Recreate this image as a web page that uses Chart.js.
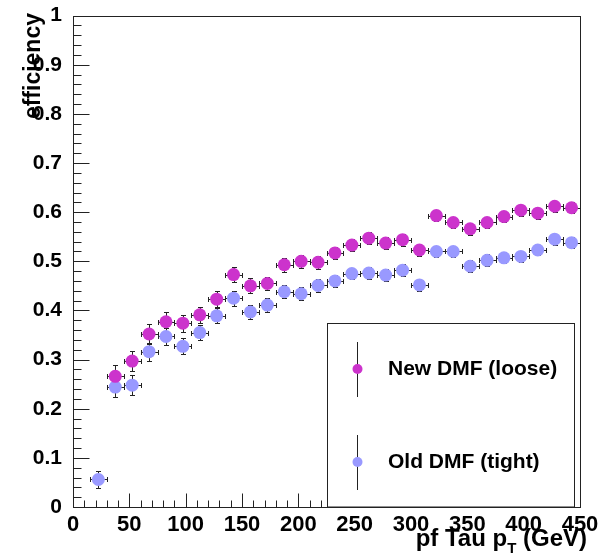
<!DOCTYPE html>
<html><head><meta charset="utf-8">
<script src="https://cdn.jsdelivr.net/npm/chart.js@4.4.1/dist/chart.umd.min.js"></script>
<style>html,body{margin:0;padding:0;background:#fff}</style>
</head><body>
<canvas id="c" width="608" height="560"></canvas>
<script>
// ---- data ----
const ptNew = [37.5,52.5,67.5,82.5,97.5,112.5,127.5,142.5,157.5,172.5,187.5,202.5,217.5,232.5,247.5,262.5,277.5,292.5,307.5,322.5,337.5,352.5,367.5,382.5,397.5,412.5,427.5,442.5];
const effNew = [0.266,0.297,0.352,0.377,0.374,0.391,0.423,0.473,0.450,0.455,0.493,0.500,0.498,0.517,0.533,0.547,0.537,0.544,0.523,0.593,0.579,0.566,0.579,0.591,0.604,0.598,0.612,0.609];
const errNew = [0.022,0.021,0.020,0.019,0.017,0.016,0.016,0.015,0.015,0.014,0.014,0.013,0.013,0.013,0.012,0.012,0.012,0.012,0.012,0.012,0.012,0.012,0.012,0.012,0.011,0.011,0.011,0.011];
const ptOld = [22.5,37.5,52.5,67.5,82.5,97.5,112.5,127.5,142.5,157.5,172.5,187.5,202.5,217.5,232.5,247.5,262.5,277.5,292.5,307.5,322.5,337.5,352.5,367.5,382.5,397.5,412.5,427.5,442.5];
const effOld = [0.056,0.244,0.248,0.316,0.347,0.327,0.355,0.389,0.425,0.397,0.411,0.438,0.434,0.451,0.460,0.475,0.476,0.472,0.482,0.452,0.520,0.520,0.490,0.502,0.507,0.510,0.523,0.545,0.538];
const errOld = [0.018,0.020,0.020,0.018,0.017,0.016,0.016,0.015,0.015,0.014,0.014,0.013,0.013,0.013,0.012,0.012,0.012,0.012,0.012,0.012,0.012,0.012,0.012,0.012,0.011,0.011,0.011,0.011,0.011];
const binHalfWidth = 7.5;
const xTicks = [0,50,100,150,200,250,300,350,400,450];
const yTicks = [0,0.1,0.2,0.3,0.4,0.5,0.6,0.7,0.8,0.9,1];
const yTickLabels = ["0","0.1","0.2","0.3","0.4","0.5","0.6","0.7","0.8","0.9","1"];
const seriesNames = ["New DMF (loose)","Old DMF (tight)"];
const seriesColors = ["#cc33cc","#9999ff"];
const xTitleMain = "pf Tau p", xTitleSub = "T", xTitleEnd = " (GeV)";
const yTitle = "efficiency";

const FONT = "'Liberation Sans', Arial, Helvetica, sans-serif";

function pts(xs, ys, es){ return xs.map((x,i)=>({x:x, y:ys[i], xe:binHalfWidth, ye:es[i]})); }

const errorBars = {
  id:'errorBars',
  beforeDatasetsDraw(chart){
    const {ctx, scales:{x,y}} = chart;
    ctx.save(); ctx.strokeStyle='#222'; ctx.lineWidth=1;
    chart.data.datasets.forEach(ds=>{
      ds.data.forEach(p=>{
        const px=Math.round(x.getPixelForValue(p.x))+0.5, py=Math.round(y.getPixelForValue(p.y))+0.5;
        const x0=Math.round(x.getPixelForValue(p.x-p.xe))+0.5, x1=Math.round(x.getPixelForValue(p.x+p.xe))+0.5;
        const y0=Math.round(y.getPixelForValue(p.y-p.ye))+0.5, y1=Math.round(y.getPixelForValue(p.y+p.ye))+0.5;
        ctx.beginPath();
        ctx.moveTo(x0,py); ctx.lineTo(x1,py);
        ctx.moveTo(px,y0); ctx.lineTo(px,y1);
        ctx.moveTo(x0,py-2.5); ctx.lineTo(x0,py+2.5);
        ctx.moveTo(x1,py-2.5); ctx.lineTo(x1,py+2.5);
        ctx.moveTo(px-2.5,y0); ctx.lineTo(px+2.5,y0);
        ctx.moveTo(px-2.5,y1); ctx.lineTo(px+2.5,y1);
        ctx.stroke();
      });
    });
    ctx.restore();
  }
};

const frameAndDecor = {
  id:'frameAndDecor',
  afterDatasetsDraw(chart){
    const {ctx, chartArea:a, scales:{x,y}} = chart;
    ctx.save();
    ctx.strokeStyle='#222'; ctx.lineWidth=1;
    const L=Math.round(a.left)+0.5, R=Math.round(a.right)+0.5, T=Math.round(a.top)+0.5, B=Math.round(a.bottom)+0.5;
    ctx.strokeRect(L,T,R-L,B-T);
    ctx.beginPath();
    for(let v=0; v<=1.0001; v+=0.02){
      const py=Math.round(y.getPixelForValue(v))+0.5;
      const major = Math.abs(v*10-Math.round(v*10))<1e-6;
      ctx.moveTo(L,py); ctx.lineTo(L+(major?16:8),py);
    }
    for(let v=0; v<=450.0001; v+=10){
      const px=Math.round(x.getPixelForValue(v))+0.5;
      const major = v%50===0;
      ctx.moveTo(px,B); ctx.lineTo(px,B-(major?14:7));
    }
    ctx.stroke();

    // legend box
    ctx.strokeStyle='#222';
    ctx.fillStyle='#fff';
    ctx.fillRect(328,324,246,183);
    ctx.strokeRect(327.5,323.5,247,183.5);
    const rows=[369,462];
    rows.forEach((ry,i)=>{
      ctx.beginPath(); ctx.strokeStyle='#222';
      ctx.moveTo(357.5,ry-27); ctx.lineTo(357.5,ry+28); ctx.stroke();
      ctx.beginPath(); ctx.fillStyle=seriesColors[i];
      ctx.arc(357.5,ry,5,0,Math.PI*2); ctx.fill();
      ctx.fillStyle='#000'; ctx.font='bold 21px '+FONT;
      ctx.textAlign='left'; ctx.textBaseline='middle';
      ctx.fillText(seriesNames[i],388,ry);
    });

    // x title with subscript
    ctx.fillStyle='#000';
    ctx.textBaseline='alphabetic'; ctx.textAlign='left';
    const fMain='bold 24px '+FONT, fSub='bold 15px '+FONT;
    ctx.font=fMain; const w1=ctx.measureText(xTitleMain).width, w3=ctx.measureText(xTitleEnd).width;
    ctx.font=fSub; const w2=ctx.measureText(xTitleSub).width;
    let sx = 587 - (w1+w2+w3);
    const by=546;
    ctx.font=fMain; ctx.fillText(xTitleMain,sx,by); sx+=w1;
    ctx.font=fSub; ctx.fillText(xTitleSub,sx,by+7); sx+=w2;
    ctx.font=fMain; ctx.fillText(xTitleEnd,sx,by);

    // y title
    ctx.save();
    ctx.translate(40,13); ctx.rotate(-Math.PI/2);
    ctx.font='bold 23px '+FONT; ctx.textAlign='right'; ctx.textBaseline='alphabetic';
    ctx.fillText(yTitle,0,0);
    ctx.restore();
    ctx.restore();
  }
};

new Chart(document.getElementById('c'), {
  type:'scatter',
  data:{ datasets:[
    { label:seriesNames[0], data:pts(ptNew,effNew,errNew), backgroundColor:seriesColors[0], borderWidth:0, pointRadius:6.5, pointHoverRadius:6.5 },
    { label:seriesNames[1], data:pts(ptOld,effOld,errOld), backgroundColor:seriesColors[1], borderWidth:0, pointRadius:6.5, pointHoverRadius:6.5 }
  ]},
  options:{
    responsive:false, animation:false, devicePixelRatio:1,
    layout:{padding:{left:0,right:28,top:15,bottom:0}},
    plugins:{legend:{display:false}, tooltip:{enabled:false}, title:{display:false}},
    scales:{
      x:{ type:'linear', min:0, max:450,
          afterFit(s){ s.height=53; },
          afterBuildTicks(s){ s.ticks = xTicks.map(v=>({value:v})); },
          grid:{display:false}, border:{display:false},
          ticks:{ autoSkip:false, maxRotation:0, minRotation:0, padding:-3, color:'#000',
                  font:{family:FONT, weight:'bold', size:22}, callback:(v)=>String(v) } },
      y:{ type:'linear', min:0, max:1,
          afterFit(s){ s.width=73; },
          afterBuildTicks(s){ s.ticks = yTicks.map(v=>({value:v})); },
          grid:{display:false}, border:{display:false},
          ticks:{ autoSkip:false, padding:3, color:'#000',
                  font:{family:FONT, weight:'bold', size:21},
                  callback:(v)=>{ const i=yTicks.findIndex(t=>Math.abs(t-v)<1e-9); return i>=0?yTickLabels[i]:''; } } }
    }
  },
  plugins:[errorBars, frameAndDecor]
});
</script>
</body></html>
